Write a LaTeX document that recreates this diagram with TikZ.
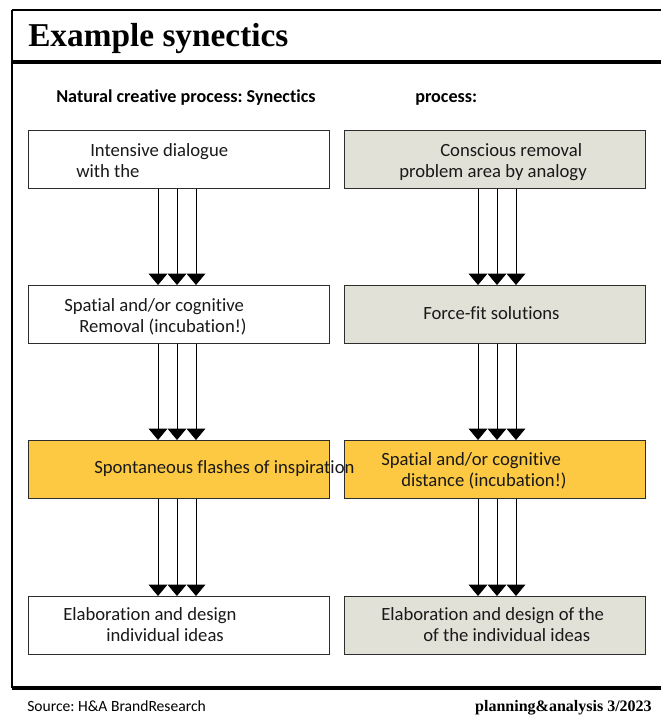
\documentclass[tikz,border=0pt]{standalone}
\usepackage{fontspec}
\setmainfont{Carlito}[Ligatures=NoCommon]
\newfontfamily\headfont{Liberation Serif}
\usetikzlibrary{arrows.meta}
\definecolor{flashfill}{RGB}{253,201,66}
\definecolor{greyfill}{RGB}{225,225,216}
\definecolor{boxline}{RGB}{45,45,45}
\frenchspacing

\begin{document}
\begin{tikzpicture}[x=0.75pt,y=0.75pt,yscale=-1,xscale=1,
  stepbox/.style={draw=boxline,line width=0.8pt,inner sep=0pt,anchor=north west,minimum width=226pt,minimum height=43.5pt},
  boxtext/.style={anchor=base west,inner sep=0pt,font=\fontsize{14}{16}\selectfont,text=black!90},
  flow/.style={draw=black,line width=0.6pt,-{Triangle[width=14pt,length=8.5pt]}}]
\useasboundingbox (0,0) rectangle (661,715);
\draw [line width=1.3pt] (12,10) -- (661,10) ;
\draw [line width=1.5pt] (12,10) -- (12,688) ;
\draw [line width=3pt] (12,62) -- (661,62) ;
\draw [line width=3pt] (12,688) -- (661,688) ;
\node [anchor=base west,inner sep=0pt,font=\headfont\bfseries\fontsize{25}{28}\selectfont] (title) at (28,46) {Example synectics};
\node [anchor=base west,inner sep=0pt,font=\bfseries\fontsize{13.6}{16}\selectfont] (headl) at (56,102) {Natural creative process: Synectics};
\node [anchor=base west,inner sep=0pt,font=\bfseries\fontsize{13.6}{16}\selectfont] (headr) at (415,102) {process:};
\node [stepbox,fill=white] (l1) at (28,130) {};
\node [stepbox,fill=white] (l2) at (28,285) {};
\node [stepbox,fill=flashfill] (l3) at (28,440) {};
\node [stepbox,fill=white] (l4) at (28,596) {};
\node [stepbox,fill=greyfill] (r1) at (344,130) {};
\node [stepbox,fill=greyfill] (r2) at (344,285) {};
\node [stepbox,fill=flashfill] (r3) at (344,440) {};
\node [stepbox,fill=greyfill] (r4) at (344,596) {};
\draw [flow] (l1.south -| 158,0) -- (l2.north -| 158,0) ;
\draw [flow] (l1.south -| 177,0) -- (l2.north -| 177,0) ;
\draw [flow] (l1.south -| 196,0) -- (l2.north -| 196,0) ;
\draw [flow] (l2.south -| 158,0) -- (l3.north -| 158,0) ;
\draw [flow] (l2.south -| 177,0) -- (l3.north -| 177,0) ;
\draw [flow] (l2.south -| 196,0) -- (l3.north -| 196,0) ;
\draw [flow] (l3.south -| 158,0) -- (l4.north -| 158,0) ;
\draw [flow] (l3.south -| 177,0) -- (l4.north -| 177,0) ;
\draw [flow] (l3.south -| 196,0) -- (l4.north -| 196,0) ;
\draw [flow] (r1.south -| 478,0) -- (r2.north -| 478,0) ;
\draw [flow] (r1.south -| 497,0) -- (r2.north -| 497,0) ;
\draw [flow] (r1.south -| 516,0) -- (r2.north -| 516,0) ;
\draw [flow] (r2.south -| 478,0) -- (r3.north -| 478,0) ;
\draw [flow] (r2.south -| 497,0) -- (r3.north -| 497,0) ;
\draw [flow] (r2.south -| 516,0) -- (r3.north -| 516,0) ;
\draw [flow] (r3.south -| 478,0) -- (r4.north -| 478,0) ;
\draw [flow] (r3.south -| 497,0) -- (r4.north -| 497,0) ;
\draw [flow] (r3.south -| 516,0) -- (r4.north -| 516,0) ;
\node [boxtext] (l1a) at (90,156) {Intensive dialogue};
\node [boxtext] (l1b) at (76,177) {with the};
\node [boxtext] (l2a) at (64,311) {Spatial and/or cognitive};
\node [boxtext] (l2b) at (79,332) {Removal (incubation!)};
\node [boxtext] (l3a) at (94,473) {Spontaneous flashes of inspiration};
\node [boxtext] (l4a) at (63,620) {Elaboration and design};
\node [boxtext] (l4b) at (106,641) {individual ideas};
\node [boxtext] (r1a) at (440,156) {Conscious removal};
\node [boxtext] (r1b) at (399,177) {problem area by analogy};
\node [boxtext] (r2a) at (423,319) {Force-fit solutions};
\node [boxtext] (r3a) at (381,465) {Spatial and/or cognitive};
\node [boxtext] (r3b) at (401,486) {distance (incubation!)};
\node [boxtext] (r4a) at (381,620) {Elaboration and design of the};
\node [boxtext] (r4b) at (423,641) {of the individual ideas};
\node [anchor=base west,inner sep=0pt,font=\fontsize{11.7}{14}\selectfont] (source) at (27,711) {Source: H\&A BrandResearch};
\node [anchor=base east,inner sep=0pt,font=\headfont\bfseries\fontsize{12}{14}\selectfont] (issue) at (652,711) {planning\&analysis 3/2023};
\end{tikzpicture}
\end{document}
